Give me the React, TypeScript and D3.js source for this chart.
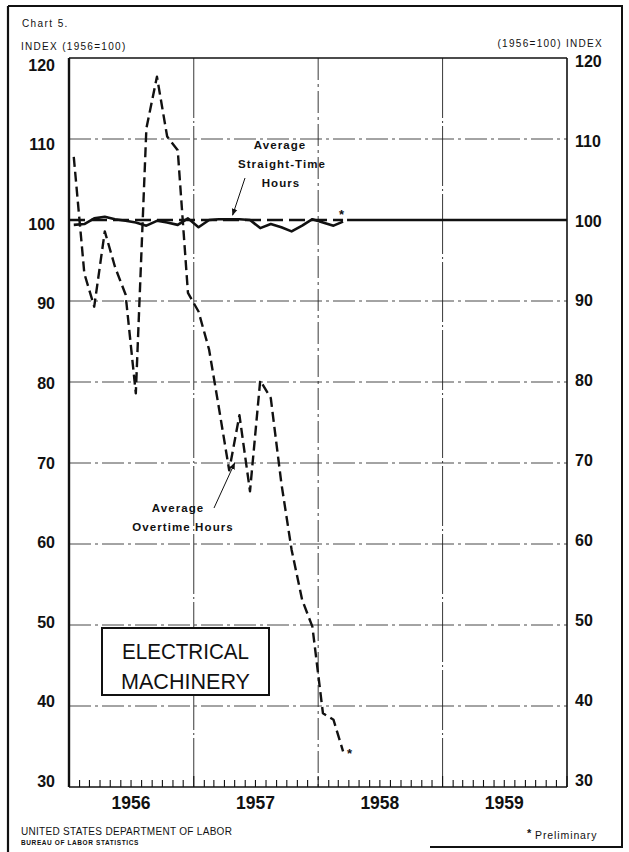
import React from "react";
import * as d3 from "d3";

// ---------- data ----------
const months = [
  "1956-01", "1956-02", "1956-03", "1956-04", "1956-05", "1956-06",
  "1956-07", "1956-08", "1956-09", "1956-10", "1956-11", "1956-12",
  "1957-01", "1957-02", "1957-03", "1957-04", "1957-05", "1957-06",
  "1957-07", "1957-08", "1957-09", "1957-10", "1957-11", "1957-12",
  "1958-01", "1958-02", "1958-03",
];
const overtimeHours = [
  107.8, 93.4, 89.3, 98.6, 94.2, 90.8, 78.6, 111.3, 117.7, 110.3, 108.6, 91.0,
  88.7, 84.0, 77.0, 69.1, 75.9, 66.5, 80.2, 78.0, 67.5, 59.3, 53.1, 49.8,
  39.1, 38.3, 34.4,
];
const straightTimeHours = [
  99.4, 99.5, 100.2, 100.4, 100.1, 99.9, 99.7, 99.3, 99.9, 99.7, 99.4, 100.2,
  99.1, 100.0, 100.1, 100.1, 100.1, 100.0, 99.0, 99.5, 99.1, 98.6, 99.3, 100.1,
  99.7, 99.3, 99.8,
];
const yTicks = [30, 40, 50, 60, 70, 80, 90, 100, 110, 120];
const yearLabels = ["1956", "1957", "1958", "1959"];

const W = 629;
const H = 852;
const FONT = "'Liberation Sans', Arial, sans-serif";

export default function App() {
  const left = 69, right = 567, top = 58, bottom = 787;
  const parse = d3.timeParse("%Y-%m");
  const dates = months.map((m) => {
    const d = parse(m) as Date;
    return new Date(d.getFullYear(), d.getMonth(), 15);
  });
  const x = d3
    .scaleTime()
    .domain([new Date(1956, 0, 1), new Date(1960, 0, 1)])
    .range([left, right]);
  const y = d3.scaleLinear().domain([30, 120]).range([bottom, top]);
  // hand-lettered tick labels are spaced slightly tighter than the grid
  const yLabelLeft = d3.scaleLinear().domain([30, 120]).range([781, 65]);
  const yLabelRight = d3.scaleLinear().domain([30, 120]).range([780, 61]);

  const line = d3
    .line<number>()
    .x((_, i) => x(dates[i]))
    .y((d) => y(d))
    .curve(d3.curveLinear);

  const monthTicks = d3.timeMonth.range(new Date(1956, 0, 1), new Date(1960, 1, 1));
  const yearLines = [1957, 1958, 1959].map((yr) => new Date(yr, 0, 1));
  const lastX = x(dates[dates.length - 1]);

  const gridDash = "22 4 3 4";

  // annotation anchors via scales
  const stTip = { x: x(new Date(1957, 3, 25)), y: y(100.6) };
  const otTip = { x: x(new Date(1957, 4, 1)), y: y(70) };

  return (
    <svg
      width={W}
      height={H}
      viewBox={`0 0 ${W} ${H}`}
      style={{ position: "absolute", left: 0, top: 0, background: "#fff" }}
      fontFamily={FONT}
    >
      <defs>
        <marker id="arrow" viewBox="0 0 10 10" refX="9" refY="5" markerWidth="7" markerHeight="7" orient="auto-start-reverse">
          <path d="M0,1 L10,5 L0,9 z" fill="#111" />
        </marker>
      </defs>
      <rect x={0} y={0} width={W} height={H} fill="#fff" />

      {/* outer page frame */}
      <line x1={8} y1={6} x2={623} y2={6} stroke="#111" strokeWidth={2} />
      <line x1={8} y1={6} x2={8} y2={852} stroke="#111" strokeWidth={2.2} />
      <line x1={622} y1={6} x2={622} y2={848} stroke="#111" strokeWidth={2} />
      <line x1={430} y1={847} x2={623} y2={847} stroke="#111" strokeWidth={2} />

      {/* header texts */}
      <text x={22} y={27} fontSize={10} letterSpacing={1.4} fill="#111">Chart 5.</text>
      <text x={21} y={50} fontSize={10} letterSpacing={1.3} fill="#111">INDEX (1956=100)</text>
      <text x={603} y={47} fontSize={10} letterSpacing={1.3} fill="#111" textAnchor="end">(1956=100) INDEX</text>

      {/* horizontal gridlines */}
      {yTicks
        .filter((t) => t !== 30 && t !== 120 && t !== 100)
        .map((t) => (
          <line key={"h" + t} x1={left} x2={right} y1={y(t)} y2={y(t)} stroke="#333" strokeWidth={0.9} strokeDasharray={gridDash} />
        ))}
      {/* vertical year gridlines */}
      {yearLines.map((d) => (
        <line key={"v" + d.getFullYear()} x1={x(d)} x2={x(d)} y1={top} y2={bottom} stroke="#222" strokeWidth={0.9} strokeDasharray={d.getFullYear() === 1958 ? gridDash : "60 3 2 3"} />
      ))}

      {/* 100 base line: dashed under the data, solid afterwards */}
      <line x1={left} x2={lastX} y1={y(100)} y2={y(100)} stroke="#111" strokeWidth={2.6} strokeDasharray="16 6" />
      <line x1={lastX + 4} x2={right} y1={y(100)} y2={y(100)} stroke="#111" strokeWidth={2.4} />

      {/* plot frame */}
      <line x1={left} x2={right} y1={top} y2={top} stroke="#111" strokeWidth={1.6} />
      <line x1={left} x2={left} y1={top} y2={bottom} stroke="#111" strokeWidth={2.4} />
      <line x1={right} x2={right} y1={top} y2={bottom} stroke="#111" strokeWidth={1.6} />
      <line x1={left} x2={right} y1={bottom} y2={bottom} stroke="#111" strokeWidth={1.6} />

      {/* month ticks */}
      {monthTicks.map((d, i) => (
        <line key={"t" + i} x1={x(d)} x2={x(d)} y1={bottom} y2={bottom - (d.getMonth() === 0 ? 11 : 7)} stroke="#111" strokeWidth={1.1} />
      ))}

      {/* y axis labels */}
      {yTicks.map((t) => (
        <g key={"yl" + t}>
          <text x={55} y={yLabelLeft(t) + 5.8} fontSize={16} fontWeight="bold" textAnchor="end" fill="#111">{t}</text>
          <text x={575} y={yLabelRight(t) + 5.8} fontSize={16} fontWeight="bold" textAnchor="start" fill="#111">{t}</text>
        </g>
      ))}

      {/* year labels */}
      {yearLabels.map((yr) => {
        const cx = x(new Date(+yr, 6, 1));
        return (
          <text key={yr} x={cx} y={809} fontSize={17.5} fontWeight="bold" textAnchor="middle" fill="#111">{yr}</text>
        );
      })}

      {/* series */}
      <path d={line(straightTimeHours) || ""} fill="none" stroke="#111" strokeWidth={2.6} strokeLinejoin="round" />
      <path d={line(overtimeHours) || ""} fill="none" stroke="#111" strokeWidth={2.4} strokeDasharray="10 5" strokeLinejoin="round" />

      {/* preliminary asterisks */}
      <text x={x(dates[dates.length - 1]) - 4} y={y(straightTimeHours[straightTimeHours.length - 1]) - 3} fontSize={13} fontWeight="bold" fill="#111">*</text>
      <text x={x(dates[dates.length - 1]) + 4} y={y(overtimeHours[overtimeHours.length - 1]) + 7} fontSize={13} fontWeight="bold" fill="#111">*</text>

      {/* straight-time annotation */}
      <g fontSize={11.5} fontWeight="bold" letterSpacing={1.1} fill="#111" textAnchor="middle">
        <text x={280} y={149}>Average</text>
        <text x={282} y={168}>Straight-Time</text>
        <text x={281} y={187}>Hours</text>
      </g>
      <line x1={245} y1={178} x2={stTip.x} y2={stTip.y} stroke="#111" strokeWidth={1} markerEnd="url(#arrow)" />

      {/* overtime annotation */}
      <g fontSize={11.5} fontWeight="bold" letterSpacing={1.1} fill="#111" textAnchor="middle">
        <text x={178} y={512}>Average</text>
        <text x={183} y={531}>Overtime Hours</text>
      </g>
      <line x1={214} y1={508} x2={otTip.x} y2={otTip.y} stroke="#111" strokeWidth={1} markerEnd="url(#arrow)" />

      {/* industry box */}
      <rect x={102} y={628} width={167} height={67} fill="#fff" stroke="#111" strokeWidth={2} />
      <text x={185.5} y={658.5} fontSize={22} textAnchor="middle" fill="#111" textLength={127} lengthAdjust="spacingAndGlyphs">ELECTRICAL</text>
      <text x={185.5} y={688.5} fontSize={22} textAnchor="middle" fill="#111" textLength={129} lengthAdjust="spacingAndGlyphs">MACHINERY</text>

      {/* footer */}
      <text x={21} y={835} fontSize={10} letterSpacing={0.3} fill="#111">UNITED STATES DEPARTMENT OF LABOR</text>
      <text x={21} y={845} fontSize={6.5} fontWeight="bold" letterSpacing={0.6} fill="#111">BUREAU OF LABOR STATISTICS</text>
      <text x={527} y={837} fontSize={11} fontWeight="bold" fill="#111">*</text>
      <text x={535} y={839} fontSize={10.5} letterSpacing={0.9} fill="#111">Preliminary</text>
    </svg>
  );
}
